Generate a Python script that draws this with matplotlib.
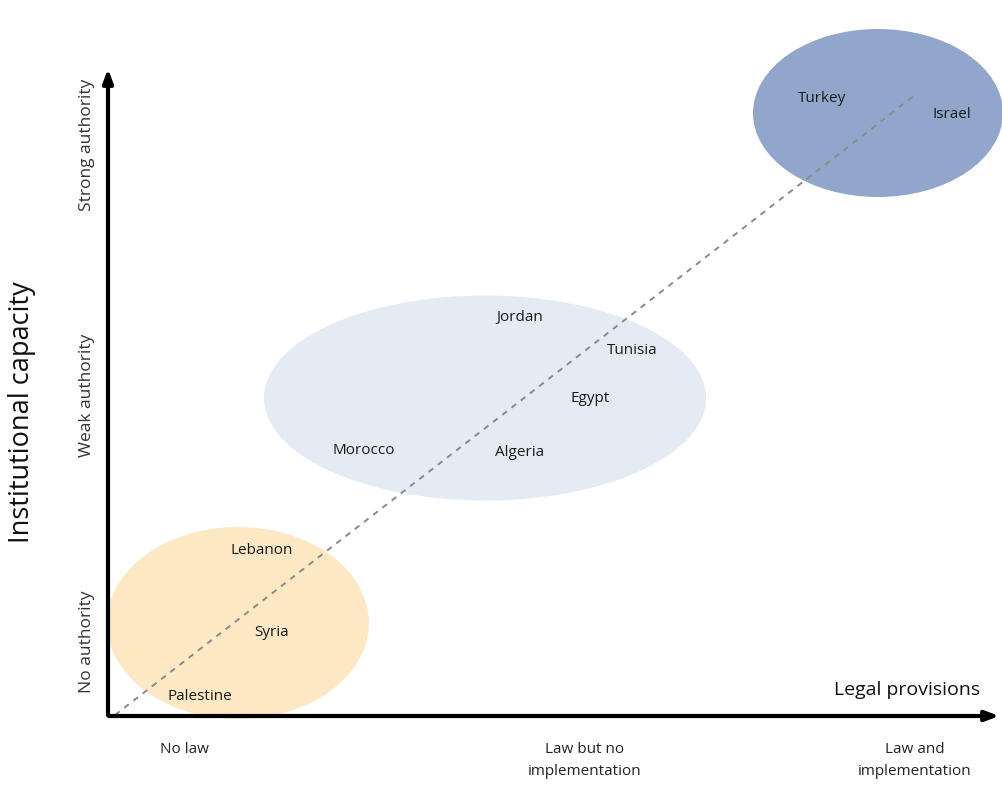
import matplotlib
matplotlib.use("Agg")
import matplotlib.pyplot as plt
from matplotlib.patches import Ellipse

# ---- data (positions on the conceptual chart plane) ----
countries = ["Turkey", "Israel", "Jordan", "Tunisia", "Egypt", "Morocco",
             "Algeria", "Lebanon", "Syria", "Palestine"]
legal_pos = [822, 952, 520, 632, 590, 364, 520, 262, 272, 200]
capacity_pos = [98, 115, 318, 350, 399, 451, 452, 551, 632, 696]

x_tick_labels = ["No law", "Law but no\nimplementation", "Law and\nimplementation"]
x_tick_pos = [185, 585, 915]
y_tick_labels = ["Strong authority", "Weak authority", "No authority"]
y_tick_pos = [145, 395, 642]

groups = ["high", "mid", "low"]
group_center_x = [878, 485, 238]
group_center_y = [113, 398, 623]
group_width = [250, 442, 262]
group_height = [168, 205, 192]
group_colors = ["#90A7CB", "#E4EBF4", "#FCE8C3"]

W, H = 1002, 792
fig = plt.figure(figsize=(W / 100, H / 100), dpi=100)
ax = fig.add_axes([0, 0, 1, 1])
ax.set_xlim(0, W)
ax.set_ylim(H, 0)
ax.axis("off")

font = "Open Sans"

for cx, cy, w, h, c in zip(group_center_x, group_center_y, group_width, group_height, group_colors):
    ax.add_patch(Ellipse((cx, cy), w, h, facecolor=c, edgecolor="none", zorder=1))

# dashed diagonal trend
ax.plot([115, 915], [715, 95], linestyle=(0, (3, 3)), color="#8a8a8a", lw=1.4, zorder=2)

# axes with arrows
ox, oy = 108, 716
ax.annotate("", xy=(ox, 66), xytext=(ox, oy + 2),
            arrowprops=dict(arrowstyle="-|>,head_length=0.8,head_width=0.3", lw=3, color="black"), zorder=5)
ax.annotate("", xy=(1002, oy), xytext=(ox - 2, oy),
            arrowprops=dict(arrowstyle="-|>,head_length=0.8,head_width=0.3", lw=3, color="black"), zorder=5)

for name, x, y in zip(countries, legal_pos, capacity_pos):
    ax.text(x, y, name, ha="center", va="center", fontsize=11, family=font,
            color="#1a1a1a", zorder=4)

for lab, x in zip(x_tick_labels, x_tick_pos):
    ax.text(x, 742, lab, ha="center", va="top", fontsize=11, family=font,
            color="#222222", linespacing=1.65)

for lab, y in zip(y_tick_labels, y_tick_pos):
    ax.text(87, y, lab, ha="center", va="center", rotation=90, fontsize=12.5,
            family=font, color="#333333")

ax.text(907, 690, "Legal provisions", ha="center", va="center", fontsize=14,
        family=font, color="#111111")
ax.text(22, 412, "Institutional capacity", ha="center", va="center", rotation=90,
        fontsize=19.5, family=font, color="#111111")

fig.savefig("out.png", dpi=100)
